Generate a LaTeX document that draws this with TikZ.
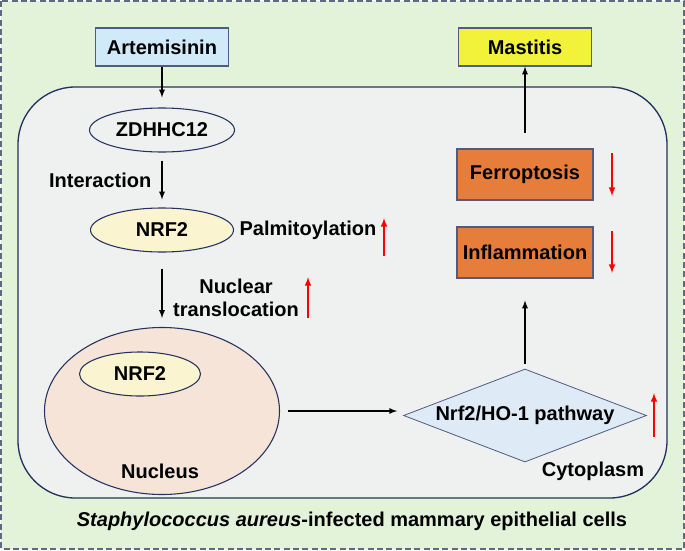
\documentclass[tikz,border=0pt]{standalone}
\usepackage{fontspec}
\setmainfont{Liberation Sans}
\usepackage{tikz}
\usetikzlibrary{shapes,arrows,positioning}

\definecolor{bggreen}{RGB}{226,243,218}
\definecolor{dashgray}{RGB}{95,105,130}
\definecolor{cellgray}{RGB}{239,240,240}
\definecolor{navy}{RGB}{35,50,95}
\definecolor{lightblue}{RGB}{208,234,250}
\definecolor{mastyellow}{RGB}{242,242,58}
\definecolor{orangebox}{RGB}{230,125,58}
\definecolor{paleyellow}{RGB}{250,245,208}
\definecolor{peach}{RGB}{245,228,215}
\definecolor{paleblue}{RGB}{222,234,246}

\tikzstyle{line} = [line width=1pt, -latex]
\tikzstyle{redline} = [line width=1.2pt, red, -latex]
\tikzstyle{box} = [draw=navy!80, line width=0.8pt, inner sep=0pt, minimum width=99.75pt, minimum height=28.5pt]
\tikzstyle{orbox} = [box, fill=orangebox, minimum width=102pt, minimum height=38.25pt]
\tikzstyle{oval} = [ellipse, draw=navy, line width=0.8pt, inner sep=0pt]
\tikzstyle{txt} = [inner sep=0pt]

\begin{document}
\begin{tikzpicture}[x=0.75pt, y=-0.75pt, font=\fontsize{15}{17.5}\selectfont\bfseries]
	\useasboundingbox (0,0) rectangle (685,550);

	% Hintergrund und Zelle
	\draw[dashgray, fill=bggreen, line width=0.8pt, dash pattern=on 4.5pt off 2.5pt] (1,1) rectangle (684,549);
	\draw[navy, fill=cellgray, line width=1pt, rounded corners=43pt] (18,87) rectangle (667,498);

	% linke Seite
	\node[box, fill=lightblue] (arte) at (162,47) {Artemisinin};
	\node[oval, fill=cellgray, minimum width=108.75pt, minimum height=33pt] (zdhhc) at (162,130) {ZDHHC12};
	\node[oval, fill=paleyellow, minimum width=107.25pt, minimum height=33pt] (nrf) at (162,230) {NRF2};
	\node[oval, fill=peach, minimum width=176.25pt, minimum height=125.25pt] (nucleus) at (162,411) {};
	\node[oval, fill=paleyellow, minimum width=90.75pt, minimum height=33pt] (nrfnuc) at (140,374) {NRF2};
	\node[txt] (nuctxt) at (160,471) {Nucleus};
	\node[txt, right=4pt of nrf] (palm) {Palmitoylation};
	\node[txt, align=center] (transl) at (236,298) {Nuclear\\translocation};

	% rechte Seite
	\node[box, fill=mastyellow] (mast) at (525,47) {Mastitis};
	\node[orbox] (ferro) at (525,174.5) {Ferroptosis};
	\node[orbox] (inflam) at (525,252.5) {Inflammation};
	\node[diamond, draw=navy!80, fill=paleblue, line width=0.6pt, aspect=2.6, inner sep=0pt,
		minimum width=182.25pt, minimum height=69.75pt] (pathway) at (525,415.5) {Nrf2/HO-1 pathway};
	\node[txt] (cyto) at (593,471) {Cytoplasm};
	\node[txt] (cells) at (352,521) {{\itshape Staphylococcus aureus}-infected mammary epithelial cells};

	% Pfeile
	\draw[line, shorten >=7.5pt] (arte) -- (zdhhc);
	\draw[line, shorten <=6pt, shorten >=6pt] (zdhhc) -- node[txt, left=7.5pt] (inter) {Interaction} (nrf);
	\draw[line, shorten <=12pt, shorten >=6.75pt] (nrf) -- (nucleus);
	\draw[line, shorten <=6pt, shorten >=4.5pt] (nucleus.east) -- (nucleus.east -| pathway.west);
	\draw[line, shorten <=3.75pt, shorten >=16.5pt] (pathway) -- (inflam);
	\draw[line, shorten <=11.25pt] (ferro) -- (mast);

	% rote Pfeile
	\draw[redline] (384,256) -- (384,218);
	\draw[redline] (308,318) -- (308,277);
	\draw[redline] (654,437) -- (654,393);
	\draw[redline] (612,153) -- (612,196);
	\draw[redline] (612,231) -- (612,273);
\end{tikzpicture}
\end{document}
